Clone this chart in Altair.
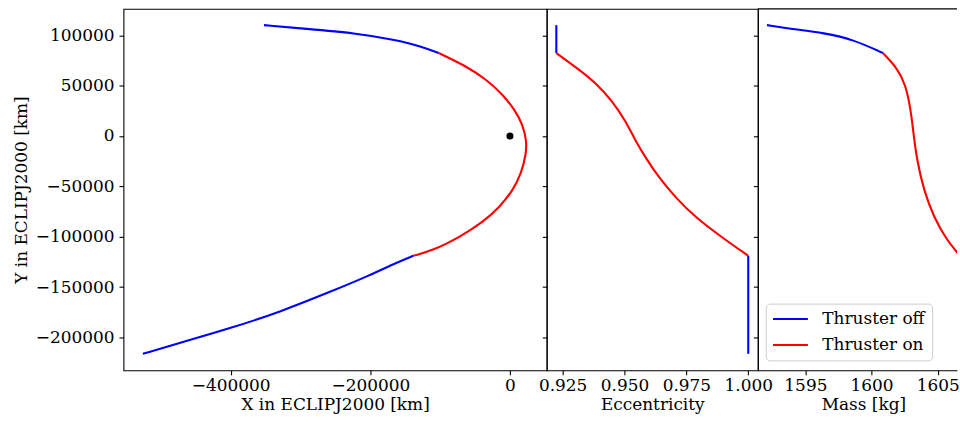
import altair as alt
import pandas as pd

# ---------------- data ----------------
# Trajectory in ECLIPJ2000 [km]
coast1_x = [-352400, -292900, -221700, -164700, -126600, -102000]
coast1_y = [110100, 106500, 102200, 95600, 89000, 82400]
burn_x = [-102000, -62400, -33900, -10300, 6400, 18200, 23900, 23100,
          16000, 4000, -15000, -38800, -72000, -110000, -138600]
burn_y = [82400, 69300, 56100, 41300, 26500, 11700, -4800, -18000,
          -37700, -54200, -70700, -85600, -100400, -113500, -119000]
coast2_x = [-138600, -162200, -200300, -257300, -328600, -399900, -471100, -525800]
coast2_y = [-119000, -125700, -138200, -154700, -174500, -190900, -205100, -216300]

# Central body
body_x = [0]
body_y = [0]

# Eccentricity vs Y
ecc_coast1 = [0.92246, 0.92246]
ecc_coast1_y = [110100, 82400]
ecc_burn = [0.92246, 0.93170, 0.93841, 0.94509, 0.95046, 0.95449, 0.95850,
            0.96385, 0.97055, 0.97860, 0.98929, 1.0]
ecc_burn_y = [82400, 65900, 52700, 34600, 14800, -4900, -21400,
              -41200, -60900, -80700, -100500, -119000]
ecc_coast2 = [1.0, 1.0]
ecc_coast2_y = [-119000, -216300]

# Mass vs Y
mass_coast1 = [1592.1, 1593.92, 1596.43, 1598.68, 1600.85]
mass_coast1_y = [110100, 106400, 102400, 95500, 82400]
mass_burn = [1600.85, 1601.94, 1602.56, 1602.94, 1603.20, 1603.44, 1603.95,
             1604.70, 1605.70, 1606.45, 1606.65]
mass_burn_y = [82400, 67500, 51000, 28000, -1600, -24700, -54300,
               -80700, -103700, -115300, -119000]
mass_coast2 = [1606.65, 1606.65]
mass_coast2_y = [-119000, -216300]

phases = ["Thruster off", "Thruster on"]
colors = ["#0000ff", "#ff0000"]
y_ticks = [-200000, -150000, -100000, -50000, 0, 50000, 100000]


def build(segments):
    rows = []
    for seg_id, (phase, xs, ys) in enumerate(segments):
        for i, (x, y) in enumerate(zip(xs, ys)):
            rows.append({"x": x, "y": y, "phase": phase, "seg": seg_id, "ord": i})
    return pd.DataFrame(rows)


traj_df = build([(phases[0], coast1_x, coast1_y),
                 (phases[1], burn_x, burn_y),
                 (phases[0], coast2_x, coast2_y)])
ecc_df = build([(phases[0], ecc_coast1, ecc_coast1_y),
                (phases[1], ecc_burn, ecc_burn_y),
                (phases[0], ecc_coast2, ecc_coast2_y)])
mass_df = build([(phases[0], mass_coast1, mass_coast1_y),
                 (phases[1], mass_burn, mass_burn_y),
                 (phases[0], mass_coast2, mass_coast2_y)])
body_df = pd.DataFrame({"x": body_x, "y": body_y})

FONT = "DejaVu Serif"
FS = 17
Y_DOMAIN = [-232700, 126300]
H = 363
CURVE = "basis"

color_scale = alt.Scale(domain=phases, range=colors)


def y_enc(show_labels, title=None, domain=False):
    if show_labels:
        ax = alt.Axis(values=y_ticks, format="d", title=title, tickSize=4.5,
                      labelPadding=5, titlePadding=5, domain=domain, grid=False)
    else:
        ax = alt.Axis(values=y_ticks, labels=False, title=None, tickSize=4.5,
                      domain=domain, grid=False)
    return alt.Y("y:Q", scale=alt.Scale(domain=Y_DOMAIN, nice=False, zero=False), axis=ax)


# ---------------- left panel: trajectory ----------------
traj_line = alt.Chart(traj_df).mark_line(strokeWidth=2.1, interpolate=CURVE).encode(
    x=alt.X("x:Q", scale=alt.Scale(domain=[-553555, 52655], nice=False, zero=False),
            axis=alt.Axis(values=[-400000, -200000, 0], format="d",
                          title="X in ECLIPJ2000 [km]", tickSize=4.5, labelPadding=3,
                          titlePadding=3, domain=False, grid=False)),
    y=y_enc(True, "Y in ECLIPJ2000 [km]"),
    color=alt.Color("phase:N", scale=color_scale, legend=None),
    detail="seg:N",
    order="ord:Q",
)
body_pt = alt.Chart(body_df).mark_circle(size=50, color="black", opacity=1).encode(
    x="x:Q", y="y:Q"
)
left = alt.layer(traj_line, body_pt).properties(width=425, height=H)

# ---------------- middle panel: eccentricity ----------------
mid = alt.Chart(ecc_df).mark_line(strokeWidth=2.1, interpolate=CURVE).encode(
    x=alt.X("x:Q", scale=alt.Scale(domain=[0.91858, 1.003877], nice=False, zero=False),
            axis=alt.Axis(values=[0.925, 0.95, 0.975, 1.0], format=".3f",
                          title="Eccentricity", tickSize=4.5, labelPadding=3,
                          titlePadding=3, domain=False, grid=False)),
    y=y_enc(False),
    color=alt.Color("phase:N", scale=color_scale, legend=None),
    detail="seg:N",
    order="ord:Q",
).properties(width=212, height=H)

# ---------------- right panel: mass (clipped at the figure edge) ----------------
mass_line = alt.Chart(mass_df).mark_line(strokeWidth=2.1, clip=True,
                                         interpolate=CURVE).encode(
    x=alt.X("x:Q", scale=alt.Scale(domain=[1591.41, 1606.45], nice=False, zero=False),
            axis=alt.Axis(values=[1595, 1600, 1605], format="d",
                          title="Mass [kg]", tickSize=4.5, labelPadding=3,
                          titlePadding=3, titleX=106, domain=True, grid=False)),
    y=y_enc(False, domain=True),
    color=alt.Color("phase:N", scale=color_scale,
                    legend=alt.Legend(title=None, orient="none", legendX=8, legendY=296,
                                      symbolType="M-3.5,0H3.5", symbolSize=100,
                                      symbolStrokeWidth=2.1, symbolOffset=9.25,
                                      labelOffset=23.5, labelFont=FONT, labelFontSize=FS,
                                      labelColor="black", padding=7, rowPadding=8,
                                      strokeColor="#cccccc", fillColor="#ffffff",
                                      cornerRadius=4)),
    detail="seg:N",
    order="ord:Q",
)
top_edge = alt.Chart(pd.DataFrame({"k": [0]})).mark_rule(color="black", strokeWidth=1.1).encode(
    x=alt.value(0), x2=alt.value(200), y=alt.value(0)
)
right = alt.layer(mass_line, top_edge).properties(
    width=200, height=H, view=alt.ViewBackground(strokeOpacity=0)
)

chart = alt.hconcat(left, mid, right, spacing=0, bounds="flush").resolve_scale(
    color="independent", y="independent", x="independent"
).properties(
    padding={"left": 11, "top": 7, "right": 0, "bottom": 0}
).configure_view(
    stroke="black", strokeWidth=1.1
).configure_axis(
    labelFont=FONT, titleFont=FONT, labelFontSize=FS, titleFontSize=FS,
    titleFontWeight="normal", labelColor="black", titleColor="black",
    tickColor="black", domainColor="black", tickWidth=1.1, domainWidth=1.1
)

chart.save("out.html", embed_options={"renderer": "svg", "actions": False})
